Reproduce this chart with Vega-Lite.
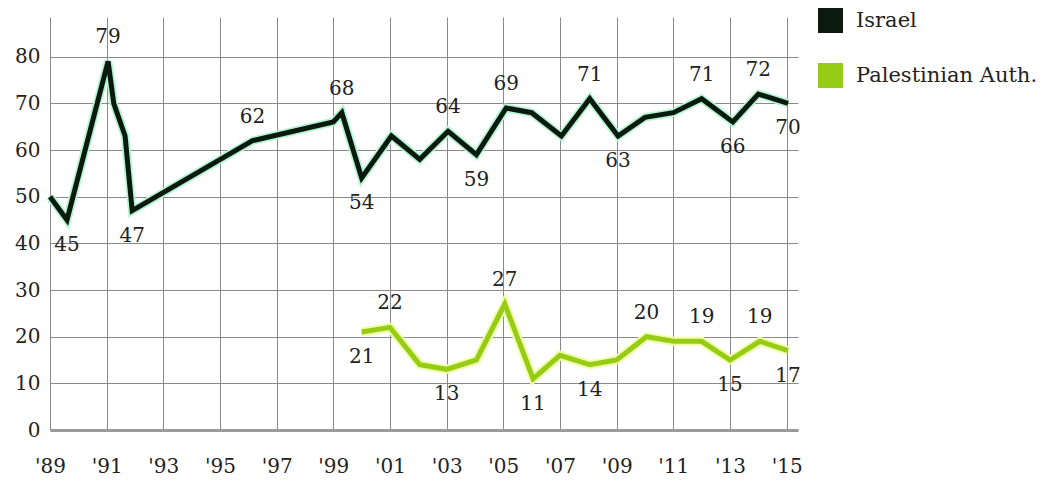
{
  "$schema": "https://vega.github.io/schema/vega-lite/v6.json",
  "width": 748,
  "height": 413,
  "autosize": {"type": "none"},
  "padding": {"left": 50, "top": 17, "right": 262, "bottom": 52},
  "background": "white",
  "config": {
    "view": {"stroke": null},
    "font": "DejaVu Serif"
  },
  "data": {
    "values": [
      {"series": "Israel", "year": 1989.0, "value": 50, "extreme": ""},
      {"series": "Israel", "year": 1989.6, "value": 45, "extreme": "low"},
      {"series": "Israel", "year": 1991.05, "value": 79, "extreme": "high"},
      {"series": "Israel", "year": 1991.25, "value": 70, "extreme": ""},
      {"series": "Israel", "year": 1991.65, "value": 63, "extreme": ""},
      {"series": "Israel", "year": 1991.9, "value": 47, "extreme": "low"},
      {"series": "Israel", "year": 1996.15, "value": 62, "extreme": "high"},
      {"series": "Israel", "year": 1999.0, "value": 66, "extreme": ""},
      {"series": "Israel", "year": 1999.3, "value": 68, "extreme": "high"},
      {"series": "Israel", "year": 2000.0, "value": 54, "extreme": "low"},
      {"series": "Israel", "year": 2001.05, "value": 63, "extreme": ""},
      {"series": "Israel", "year": 2002.05, "value": 58, "extreme": ""},
      {"series": "Israel", "year": 2003.05, "value": 64, "extreme": "high"},
      {"series": "Israel", "year": 2004.05, "value": 59, "extreme": "low"},
      {"series": "Israel", "year": 2005.1, "value": 69, "extreme": "high"},
      {"series": "Israel", "year": 2006.0, "value": 68, "extreme": ""},
      {"series": "Israel", "year": 2007.05, "value": 63, "extreme": ""},
      {"series": "Israel", "year": 2008.05, "value": 71, "extreme": "high"},
      {"series": "Israel", "year": 2009.05, "value": 63, "extreme": "low"},
      {"series": "Israel", "year": 2010.0, "value": 67, "extreme": ""},
      {"series": "Israel", "year": 2011.0, "value": 68, "extreme": ""},
      {"series": "Israel", "year": 2012.0, "value": 71, "extreme": "high"},
      {"series": "Israel", "year": 2013.1, "value": 66, "extreme": "low"},
      {"series": "Israel", "year": 2014.0, "value": 72, "extreme": "high"},
      {"series": "Israel", "year": 2015.05, "value": 70, "extreme": "low"},
      {"series": "Palestinian Auth.", "year": 2000.0, "value": 21, "extreme": "low"},
      {"series": "Palestinian Auth.", "year": 2001.0, "value": 22, "extreme": "high"},
      {"series": "Palestinian Auth.", "year": 2002.05, "value": 14, "extreme": ""},
      {"series": "Palestinian Auth.", "year": 2003.0, "value": 13, "extreme": "low"},
      {"series": "Palestinian Auth.", "year": 2004.05, "value": 15, "extreme": ""},
      {"series": "Palestinian Auth.", "year": 2005.05, "value": 27, "extreme": "high"},
      {"series": "Palestinian Auth.", "year": 2006.05, "value": 11, "extreme": "low"},
      {"series": "Palestinian Auth.", "year": 2007.0, "value": 16, "extreme": ""},
      {"series": "Palestinian Auth.", "year": 2008.05, "value": 14, "extreme": "low"},
      {"series": "Palestinian Auth.", "year": 2009.0, "value": 15, "extreme": ""},
      {"series": "Palestinian Auth.", "year": 2010.05, "value": 20, "extreme": "high"},
      {"series": "Palestinian Auth.", "year": 2011.0, "value": 19, "extreme": ""},
      {"series": "Palestinian Auth.", "year": 2012.0, "value": 19, "extreme": "high"},
      {"series": "Palestinian Auth.", "year": 2013.0, "value": 15, "extreme": "low"},
      {"series": "Palestinian Auth.", "year": 2014.05, "value": 19, "extreme": "high"},
      {"series": "Palestinian Auth.", "year": 2015.05, "value": 17, "extreme": "low"}
    ]
  },
  "encoding": {
    "x": {
      "field": "year",
      "type": "quantitative",
      "scale": {"domain": [1989, 2015.4], "nice": false, "zero": false},
      "axis": {
        "title": null,
        "values": [1989, 1991, 1993, 1995, 1997, 1999, 2001, 2003, 2005, 2007, 2009, 2011, 2013, 2015],
        "labelExpr": "\"'\" + slice(toString(datum.value), 2)",
        "grid": true,
        "gridColor": "#8a8a8a",
        "gridWidth": 1,
        "gridOpacity": 1,
        "domain": true,
        "domainColor": "#9a9a9a",
        "domainWidth": 3,
        "ticks": false,
        "labelPadding": 26,
        "labelFont": "DejaVu Serif",
        "labelFontSize": 20,
        "labelColor": "#222222",
        "labelFlush": false
      }
    },
    "y": {
      "field": "value",
      "type": "quantitative",
      "scale": {"domain": [0, 88.5], "nice": false},
      "axis": {
        "title": null,
        "values": [0, 10, 20, 30, 40, 50, 60, 70, 80],
        "grid": true,
        "gridColor": "#8a8a8a",
        "gridWidth": 1,
        "gridOpacity": 1,
        "domain": false,
        "ticks": false,
        "labelPadding": 10,
        "labelFont": "DejaVu Serif",
        "labelFontSize": 20,
        "labelColor": "#222222"
      }
    }
  },
  "layer": [
    {
      "transform": [{"filter": "datum.series === 'Israel'"}],
      "mark": {"type": "line", "color": "#b4f5cf", "strokeWidth": 8.5, "strokeJoin": "miter"}
    },
    {
      "transform": [{"filter": "datum.series === 'Palestinian Auth.'"}],
      "mark": {"type": "line", "color": "#f0ffa8", "strokeWidth": 9, "strokeJoin": "miter"}
    },
    {
      "mark": {"type": "line", "strokeWidth": 5, "strokeJoin": "miter"},
      "encoding": {
        "color": {
          "field": "series",
          "type": "nominal",
          "scale": {"domain": ["Israel", "Palestinian Auth."], "range": ["#0b1a0e", "#96cc16"]},
          "legend": {
            "title": null,
            "orient": "none",
            "legendX": 768,
            "legendY": -9,
            "symbolType": "square",
            "symbolSize": 625,
            "symbolStrokeWidth": 0,
            "symbolOpacity": 1,
            "rowPadding": 30,
            "labelOffset": 13,
            "labelFont": "DejaVu Serif",
            "labelFontSize": 21,
            "labelColor": "#222222",
            "labelLimit": 300,
            "encode": {
              "symbols": {
                "update": {
                  "fill": {"scale": "color", "field": "value"},
                  "fillOpacity": {"value": 1}
                }
              }
            }
          }
        }
      }
    },
    {
      "transform": [{"filter": "datum.extreme === 'high'"}],
      "mark": {"type": "text", "dy": -24, "font": "DejaVu Serif", "fontSize": 20, "color": "#222222", "baseline": "middle"},
      "encoding": {"text": {"field": "value", "type": "quantitative"}}
    },
    {
      "transform": [{"filter": "datum.extreme === 'low'"}],
      "mark": {"type": "text", "dy": 25, "font": "DejaVu Serif", "fontSize": 20, "color": "#222222", "baseline": "middle"},
      "encoding": {"text": {"field": "value", "type": "quantitative"}}
    }
  ]
}
